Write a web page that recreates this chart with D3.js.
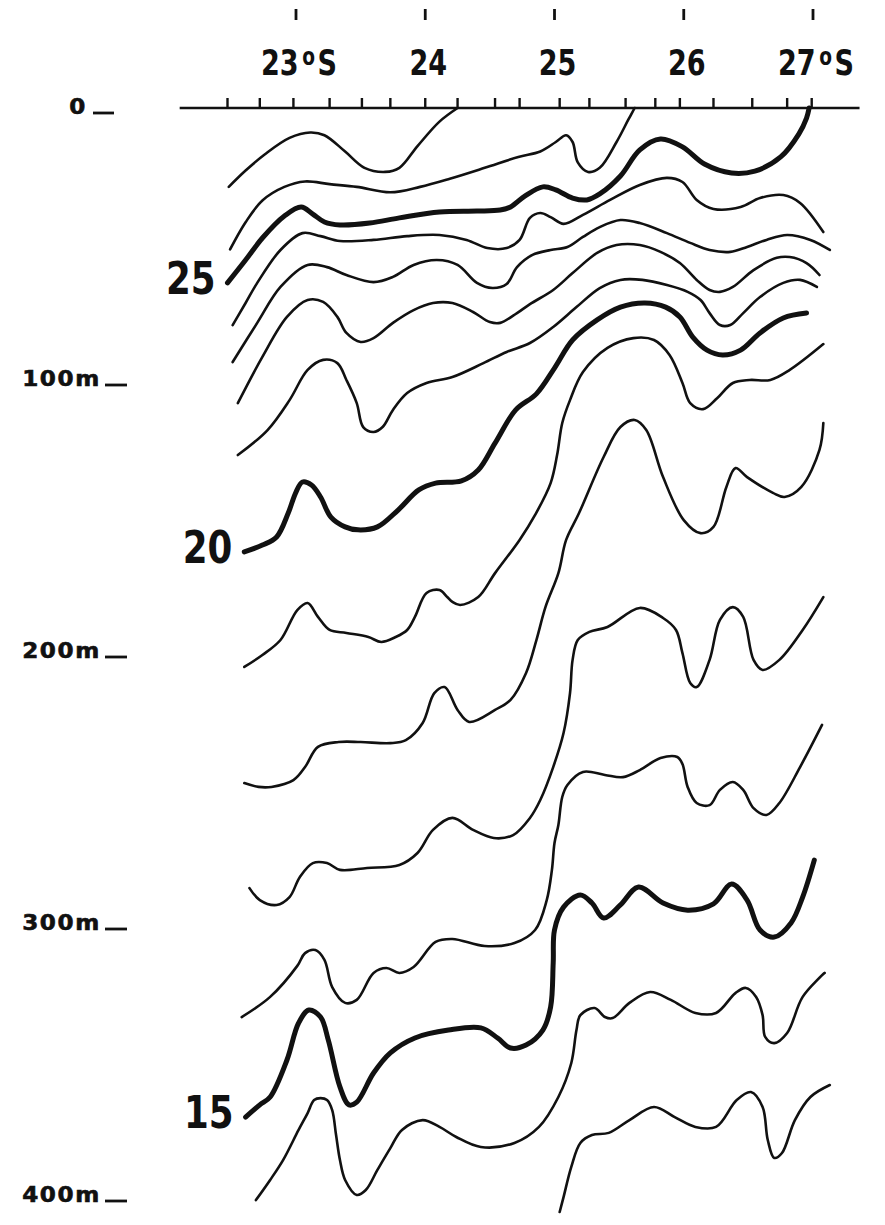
<!DOCTYPE html>
<html>
<head>
<meta charset="utf-8">
<script src="https://cdn.jsdelivr.net/npm/d3@7/dist/d3.min.js"></script>
<style>
  body { margin: 0; background: #fff; }
</style>
</head>
<body>
<div id="chart"></div>
<script>
const iso27 = [[22.48,29],[22.61,23],[22.76,17],[22.95,11],[23.11,9],[23.22,10],[23.38,16],[23.53,22],[23.69,23.5],[23.80,22],[23.94,14],[24.11,5],[24.25,0]];
const iso26 = [[22.49,52],[22.61,42],[22.74,34],[22.91,29],[23.07,27],[23.26,28],[23.47,29],[23.73,31],[23.96,29],[24.19,26],[24.46,22],[24.72,18],[24.89,16],[25.01,12.5],[25.09,10],[25.14,12.5],[25.18,20],[25.26,23.5],[25.35,22],[25.48,12.5],[25.57,4.4],[25.62,0]];
const iso25 = [[22.47,64.3],[22.61,55.9],[22.74,47.8],[22.91,39.7],[23.04,36.4],[23.13,39],[23.22,41.9],[23.34,43],[23.57,42.3],[23.80,40.4],[24.11,38.2],[24.40,37.9],[24.58,37.5],[24.66,36.4],[24.77,32.4],[24.91,29],[25.01,30.1],[25.14,33.1],[25.25,33.8],[25.35,31.6],[25.51,25],[25.66,15.4],[25.82,11.4],[25.99,14.3],[26.16,20.6],[26.37,23.9],[26.55,23.2],[26.75,18],[26.89,9.6],[26.95,3.7],[26.97,0]];
const iso24 = [[22.51,79.8],[22.61,71.7],[22.70,64.3],[22.88,52.2],[23.05,46],[23.19,47.1],[23.34,48.9],[23.60,48.5],[23.86,47.1],[24.11,46.7],[24.32,48.5],[24.48,51.5],[24.63,51.5],[24.73,48.5],[24.81,40.4],[24.89,38.6],[24.97,40.1],[25.07,42.6],[25.22,39.3],[25.43,33.8],[25.66,28.3],[25.87,25.7],[25.99,27.2],[26.10,33.8],[26.23,37.1],[26.44,36.4],[26.59,33.1],[26.77,32],[26.90,34.9],[27.08,45.6]];
const iso23 = [[22.51,93.4],[22.70,79],[22.88,65.8],[23.09,57.7],[23.24,58.5],[23.39,61.4],[23.60,64],[23.75,62.1],[23.91,57.7],[24.09,55.9],[24.25,57.7],[24.40,64.3],[24.52,66.2],[24.63,64.7],[24.71,58.5],[24.83,54],[24.97,52.2],[25.10,51.1],[25.22,47.4],[25.35,43.8],[25.51,41.2],[25.66,42.3],[25.87,46],[26.05,49.6],[26.20,52.2],[26.36,52.9],[26.49,51.1],[26.64,48.5],[26.80,46.7],[26.98,48.5],[27.13,52.2]];
const iso22 = [[22.55,108.5],[22.74,91.5],[22.93,76.8],[23.09,70.6],[23.21,71.3],[23.32,76.8],[23.39,82.7],[23.50,86],[23.60,84.6],[23.75,79],[23.91,74.3],[24.06,71.7],[24.21,71.7],[24.37,75],[24.50,78.7],[24.58,79],[24.71,75.4],[24.81,72.1],[24.99,66.9],[25.14,60.7],[25.33,53.3],[25.48,50.4],[25.66,50.4],[25.82,52.9],[25.97,57],[26.10,63.2],[26.20,66.9],[26.28,67.6],[26.38,65.8],[26.54,59.6],[26.72,55.1],[26.82,54.8],[26.95,57],[27.05,61.4]];
const iso21 = [[22.55,127.6],[22.78,118.4],[22.95,107.4],[23.09,96.3],[23.21,92.6],[23.32,93.8],[23.39,100],[23.47,108.5],[23.52,117.3],[23.60,119.1],[23.67,117.3],[23.75,111],[23.86,104.8],[24.01,101.1],[24.21,98.9],[24.45,93.8],[24.63,89.7],[24.81,86.4],[24.99,80.5],[25.17,73.2],[25.35,66.2],[25.51,63.2],[25.68,63.2],[25.87,65.1],[26.03,67.6],[26.13,70.6],[26.20,75.4],[26.28,79.8],[26.36,79.8],[26.46,75.4],[26.59,69.5],[26.77,64.3],[26.90,63.2],[27.03,65.8]];
const iso20 = [[22.60,163.2],[22.74,160.7],[22.85,157.7],[22.94,148.9],[23.00,141.2],[23.05,137.5],[23.12,138.6],[23.19,143],[23.27,150.4],[23.38,154],[23.48,155.1],[23.63,154],[23.79,147.8],[23.95,140.4],[24.08,137.9],[24.28,137.1],[24.41,133.1],[24.54,123.2],[24.70,111],[24.86,105.1],[25.00,95.6],[25.14,85.3],[25.33,77.9],[25.51,73.2],[25.70,71.7],[25.86,73.2],[25.97,76.8],[26.07,84.2],[26.18,89],[26.30,90.8],[26.44,89],[26.59,82.7],[26.77,77.2],[26.95,75.4]];
const iso19 = [[22.60,205.5],[22.74,201.1],[22.88,195.6],[23.01,184.6],[23.09,182],[23.17,187.1],[23.26,191.9],[23.39,193],[23.56,194.5],[23.66,196.3],[23.77,194.5],[23.86,191.9],[23.92,187.1],[24.01,178.3],[24.11,177.2],[24.17,179.8],[24.21,181.6],[24.27,182.7],[24.41,179.8],[24.54,171],[24.73,158.8],[24.85,149.6],[24.97,137.9],[25.02,127.6],[25.06,115.8],[25.12,107.4],[25.22,97.1],[25.41,88.2],[25.61,84.6],[25.77,85.3],[25.89,90.8],[25.99,101.1],[26.05,108.5],[26.15,110.7],[26.26,106.6],[26.38,101.1],[26.51,100],[26.67,100],[26.82,96.3],[27.08,86.8]];
const iso18 = [[22.60,248.2],[22.71,249.6],[22.81,249.6],[22.98,247.1],[23.07,242.3],[23.17,234.9],[23.33,233.1],[23.50,233.1],[23.73,233.5],[23.85,232.4],[23.98,226.1],[24.07,215.1],[24.15,212.9],[24.25,221.3],[24.34,225.7],[24.54,221.3],[24.66,217.6],[24.78,207.7],[24.86,195.6],[24.93,183.5],[25.03,171],[25.09,158.8],[25.19,148.9],[25.38,128.3],[25.51,117.3],[25.62,114.7],[25.71,118.4],[25.84,135.7],[26.00,151.5],[26.13,156.3],[26.23,154],[26.33,139.3],[26.40,132.4],[26.49,135.7],[26.69,141.5],[26.78,143],[26.91,139.3],[27.05,125.7],[27.08,115.8]];
const iso17 = [[22.64,286.8],[22.72,291.2],[22.85,293],[22.95,290.1],[23.03,282.7],[23.13,277.6],[23.24,277.6],[23.34,280.1],[23.55,279.4],[23.80,278.3],[23.94,273.9],[24.06,265.4],[24.21,261],[24.37,265.4],[24.53,268.4],[24.68,267.3],[24.81,261],[24.89,254.4],[24.99,242.3],[25.07,229.8],[25.12,215.1],[25.14,202.9],[25.18,195.6],[25.27,192.6],[25.41,190.8],[25.66,183.8],[25.84,187.5],[25.94,191.9],[25.99,200.4],[26.05,211.4],[26.10,212.9],[26.20,202.9],[26.28,188.2],[26.38,183.5],[26.46,187.1],[26.54,202.9],[26.61,206.6],[26.74,202.9],[26.92,191.9],[27.08,179.8]];
const iso16 = [[22.58,334.2],[22.80,326.8],[23.01,315.4],[23.07,310.7],[23.15,309.6],[23.22,313.2],[23.28,323.2],[23.38,329],[23.47,327.9],[23.60,318],[23.70,316.2],[23.80,318],[23.91,315.8],[24.08,306.6],[24.21,305.5],[24.46,308.1],[24.69,307],[24.85,302.2],[24.94,291.2],[24.98,280.1],[25.00,270.2],[25.03,263.6],[25.06,253.3],[25.10,248.9],[25.22,244.1],[25.39,245.2],[25.53,246],[25.66,243.4],[25.82,239],[25.95,238.6],[25.99,241.2],[26.03,249.6],[26.10,255.5],[26.20,256.3],[26.28,250.7],[26.38,247.8],[26.46,250.7],[26.54,257.4],[26.64,259.9],[26.74,255.5],[26.90,242.3],[27.07,226.8]];
const iso15 = [[22.61,371],[22.72,366.5],[22.80,363.6],[22.93,350],[23.02,336.4],[23.10,331.6],[23.19,334.2],[23.25,342.7],[23.34,359.9],[23.41,366.5],[23.47,365.5],[23.60,354.8],[23.73,347.4],[23.92,341.9],[24.18,339],[24.43,338.2],[24.56,341.9],[24.66,345.6],[24.78,344.5],[24.91,339],[24.97,330.5],[24.99,314.3],[25.00,302.2],[25.07,293.8],[25.20,289.3],[25.29,292.3],[25.38,297.8],[25.51,293],[25.65,286.4],[25.84,292.3],[26.03,294.9],[26.23,292.6],[26.37,285.3],[26.49,291.2],[26.59,302.2],[26.70,304.8],[26.83,299.6],[26.92,290.1],[27.01,276.5]];
const iso14 = [[22.69,401.5],[22.80,394.1],[22.90,386.8],[23.02,375.7],[23.09,369.5],[23.14,364.7],[23.19,364],[23.24,364.7],[23.28,368.4],[23.31,377.6],[23.34,386.8],[23.38,394.1],[23.47,399.6],[23.54,397.8],[23.63,390.4],[23.73,382.4],[23.82,375.7],[23.98,372.1],[24.11,374.6],[24.24,378.3],[24.43,382],[24.69,380.5],[24.88,374.6],[25.03,363.6],[25.13,351.1],[25.17,339],[25.20,333.5],[25.31,330.9],[25.39,334.2],[25.45,334.6],[25.58,329],[25.74,325],[25.90,327.9],[26.09,332.7],[26.25,332.7],[26.40,325.4],[26.48,323.5],[26.56,326.8],[26.61,333.5],[26.63,341.5],[26.70,343.8],[26.80,340.1],[26.92,326.8],[27.09,318]];
const iso13 = [[25.04,405.9],[25.07,400.4],[25.13,389.3],[25.20,380.5],[25.29,377.6],[25.42,376.8],[25.58,372.1],[25.77,367.3],[25.93,371],[26.09,374.6],[26.25,374.6],[26.41,364.7],[26.52,361.8],[26.61,367.3],[26.65,379.4],[26.70,386],[26.76,384.2],[26.86,372.1],[26.98,363.6],[27.13,359.2]];

const isoTemps = [27, 26, 25, 24, 23, 22, 21, 20, 19, 18, 17, 16, 15, 14, 13];
const boldTemps = [25, 20, 15];

const latTicks = [23, 24, 25, 26, 27];
const latTickLabels = ["23", "24", "25", "26", "27"];
const hemisphereMarked = [23, 27];
const stationLats = [22.47, 22.72, 22.98, 23.26, 23.51, 23.73, 24.00, 24.25, 24.54, 24.73, 25.04, 25.27, 25.55, 25.78, 25.97, 26.23, 26.53, 26.80, 26.99];
const sectionExtent = [22.10, 27.36];

const depthTicks = [0, 100, 200, 300, 400];
const depthTickLabels = ["0", "100m", "200m", "300m", "400m"];

const width = 885, height = 1225;
const ink = "#111";
const narrowFont = "'DejaVu Sans Condensed', 'DejaVu Sans', sans-serif";

var svg = d3.select("#chart")
    .append("svg")
    .attr("width", width)
    .attr("height", height)
    .style("background", "#fff");

var x = d3.scaleLinear().domain([23, 27]).range([296, 813]);
var y = d3.scaleLinear().domain([0, 400]).range([108, 1196]);

var isoPoints = [iso27, iso26, iso25, iso24, iso23, iso22, iso21, iso20, iso19, iso18, iso17, iso16, iso15, iso14, iso13];
var isotherms = isoTemps.map(function (t, i) {
    return { temp: t, points: isoPoints[i] };
});

// sea surface line and station marks
svg.append("line")
    .attr("x1", x(sectionExtent[0])).attr("x2", x(sectionExtent[1]))
    .attr("y1", y(0)).attr("y2", y(0))
    .attr("stroke", ink).attr("stroke-width", 2.6);

svg.append("g").selectAll("line")
    .data(stationLats)
    .join("line")
    .attr("x1", d => x(d)).attr("x2", d => x(d))
    .attr("y1", y(0)).attr("y2", y(0) - 10)
    .attr("stroke", ink).attr("stroke-width", 2.4);

// latitude scale at the top
svg.append("g").selectAll("line")
    .data(latTicks)
    .join("line")
    .attr("x1", d => x(d)).attr("x2", d => x(d))
    .attr("y1", 9).attr("y2", 20)
    .attr("stroke", ink).attr("stroke-width", 2.8);

var latText = svg.append("g").selectAll("text")
    .data(latTicks)
    .join("text")
    .attr("transform", d => "translate(" + (x(d) + 3) + ",75) scale(0.86,1)")
    .attr("text-anchor", "middle")
    .attr("font-family", narrowFont)
    .attr("font-weight", "bold")
    .attr("font-size", 35)
    .attr("fill", ink);

latText.append("tspan").text((d, i) => latTickLabels[i]);
latText.filter(d => hemisphereMarked.includes(d))
    .each(function () {
        var t = d3.select(this);
        t.append("tspan").attr("font-size", 24).attr("dy", -10).attr("dx", 4).text("o");
        t.append("tspan").attr("dy", 10).attr("dx", 3).text("S");
    });

// depth labels on the left
var depthG = svg.append("g").selectAll("g")
    .data(depthTicks)
    .join("g")
    .attr("transform", d => "translate(0," + (y(d) + 6) + ")");

depthG.append("text")
    .attr("transform", d => "translate(" + (d === 0 ? 87 : 101) + ",0) scale(1.1,1)")
    .attr("text-anchor", "end")
    .attr("font-family", "'DejaVu Sans', sans-serif")
    .attr("font-weight", "bold")
    .attr("font-size", 21)
    .attr("letter-spacing", 1.5)
    .attr("fill", ink)
    .attr("stroke", ink)
    .attr("stroke-width", 0.6)
    .text((d, i) => depthTickLabels[i]);

depthG.append("line")
    .attr("x1", d => d === 0 ? 93 : 105)
    .attr("x2", d => d === 0 ? 114 : 127)
    .attr("y1", -1).attr("y2", -1)
    .attr("stroke", ink).attr("stroke-width", 2.8);

// isotherms
var line = d3.line()
    .x(d => x(d[0]))
    .y(d => y(d[1]))
    .curve(d3.curveCatmullRom.alpha(0.5));

svg.append("g").selectAll("path")
    .data(isotherms)
    .join("path")
    .attr("d", d => line(d.points))
    .attr("fill", "none")
    .attr("stroke", ink)
    .attr("stroke-width", d => boldTemps.includes(d.temp) ? 5 : 2.6)
    .attr("stroke-linecap", "round")
    .attr("stroke-linejoin", "round");

// temperature labels at the western end of the bold isotherms
svg.append("g").selectAll("text")
    .data(isotherms.filter(d => boldTemps.includes(d.temp)))
    .join("text")
    .attr("transform", d => "translate(" + (x(d.points[0][0]) - 12) + "," + (y(d.points[0][1]) + 11) + ") scale(0.9,1)")
    .attr("text-anchor", "end")
    .attr("font-family", narrowFont)
    .attr("font-weight", "bold")
    .attr("font-size", 44)
    .attr("fill", ink)
    .text(d => d.temp);
</script>
</body>
</html>
